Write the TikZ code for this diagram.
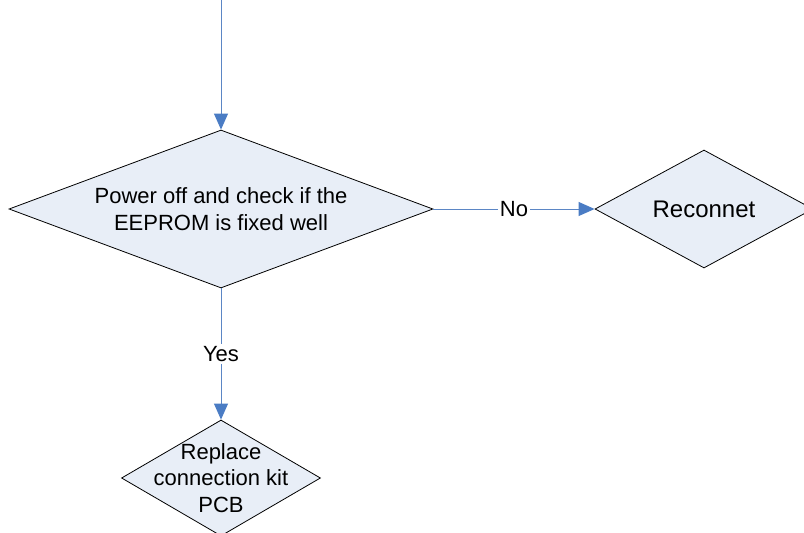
\documentclass[tikz,border=0pt]{standalone}
\usepackage{fontspec}
\setmainfont{Liberation Sans}
\usetikzlibrary{shapes.geometric,arrows.meta}
\definecolor{dfill}{HTML}{E8EEF7}
\definecolor{conn}{HTML}{5B86C5}
\definecolor{tipc}{HTML}{4A7CC4}
\begin{document}
\begin{tikzpicture}[x=1pt,y=-1pt,
  decision/.style={shape=diamond, draw=black, line width=0.8pt, fill=dfill,
    inner sep=0pt, align=center, font=\fontsize{22}{26.5}\selectfont},
  dtext/.style={inner sep=0pt, align=center, font=\fontsize{22}{26.3}\selectfont},
  flow/.style={draw=conn, line width=0.9pt,
    -{Triangle[length=16pt,width=14pt,fill=tipc,color=tipc]}},
  lbl/.style={fill=white, inner sep=2pt, font=\fontsize{22}{26.5}\selectfont}]
\useasboundingbox (0,0) rectangle (804,533);
\clip (0,0) rectangle (804,533);
\node[decision, aspect=2.68, minimum width=424pt, minimum height=158pt] (check) at (221,209)
  {Power off and check if the\\EEPROM is fixed well};
\node[decision, aspect=1.85, minimum width=218pt, minimum height=118pt,
  font=\fontsize{24}{28}\selectfont] (recon) at (704,209) {Reconnet};
\node[decision, minimum width=199pt, minimum height=116pt] (replace) at (221,478) {};
\node[dtext] (replacetxt) at (replace.center) {Replace\\connection kit\\PCB};
\coordinate (start) at (221,0);
\draw[flow] (start) -- (check.north);
\draw[flow] (check.east) -- node[lbl] {No} (recon.west);
\draw[flow] (check.south) -- node[lbl] {Yes} (replace.north);
\end{tikzpicture}
\end{document}
